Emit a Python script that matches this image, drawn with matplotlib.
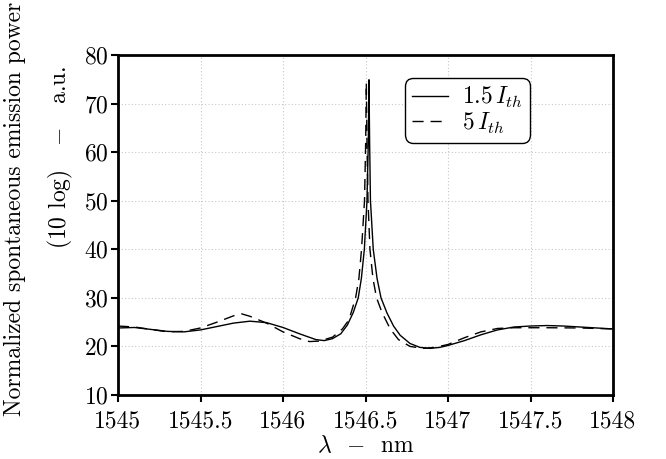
import matplotlib
matplotlib.use("Agg")
import matplotlib.pyplot as plt

plt.rcParams['font.family'] = ['cmr10', 'DejaVu Serif']
plt.rcParams['mathtext.fontset'] = 'cm'
plt.rcParams['axes.unicode_minus'] = False
plt.rcParams['axes.formatter.use_mathtext'] = True

# data
lam_a = [1545.00, 1545.10, 1545.20, 1545.30, 1545.40, 1545.50, 1545.60, 1545.70,
         1545.80, 1545.90, 1546.00, 1546.10, 1546.20, 1546.25, 1546.30, 1546.35,
         1546.39, 1546.426, 1546.456, 1546.475, 1546.493, 1546.509, 1546.517,
         1546.521, 1546.525, 1546.530, 1546.547, 1546.570, 1546.594, 1546.63,
         1546.67, 1546.71, 1546.77, 1546.83, 1546.89, 1546.95, 1547.00, 1547.10,
         1547.20, 1547.30, 1547.40, 1547.50, 1547.60, 1547.70, 1547.80, 1547.90,
         1548.00]
pow_a = [23.8, 23.9, 23.5, 23.1, 23.0, 23.4, 24.1, 24.8,
         25.2, 24.9, 23.9, 22.6, 21.4, 21.2, 21.6, 22.6,
         24.4, 27.0, 30.0, 34.0, 40.0, 50.0, 62.0,
         74.9, 62.0, 50.0, 40.0, 34.0, 30.0, 26.9,
         24.2, 22.3, 20.6, 19.8, 19.6, 19.8, 20.2, 21.2,
         22.4, 23.4, 24.0, 24.2, 24.3, 24.2, 24.0, 23.8,
         23.6]

lam_b = [1545.00, 1545.10, 1545.20, 1545.30, 1545.40, 1545.50, 1545.60, 1545.70,
         1545.75, 1545.80, 1545.90, 1546.00, 1546.10, 1546.16, 1546.22, 1546.30,
         1546.36, 1546.40, 1546.44, 1546.46, 1546.476, 1546.494, 1546.501,
         1546.505, 1546.509, 1546.515, 1546.527, 1546.545, 1546.567, 1546.60,
         1546.65, 1546.70, 1546.77, 1546.85, 1546.92, 1547.00, 1547.10, 1547.20,
         1547.30, 1547.40, 1547.60, 1547.80, 1548.00]
pow_b = [24.2, 24.0, 23.5, 23.0, 23.1, 23.8, 25.0, 26.3,
         26.7, 26.2, 24.8, 23.0, 21.6, 21.0, 21.1, 21.9,
         23.6, 25.5, 30.0, 34.0, 40.0, 50.0, 62.0,
         74.3, 62.0, 50.0, 40.0, 34.0, 30.0, 27.0,
         23.6, 21.4, 20.0, 19.6, 19.8, 20.4, 21.8, 23.0,
         23.7, 23.85, 23.85, 23.8, 23.6]

xticks = [1545, 1545.5, 1546, 1546.5, 1547, 1547.5, 1548]
xtick_labels = ['1545', '1545.5', '1546', '1546.5', '1547', '1547.5', '1548']
yticks = [10, 20, 30, 40, 50, 60, 70, 80]
labels = [r'$1.5\,I_{th}$', r'$5\,I_{th}$']

FS = 17
W, H = 666, 459
fig = plt.figure(figsize=(W / 100, H / 100), dpi=100)
ax = fig.add_axes([118 / W, 1 - 395 / H, (613 - 118) / W, (395 - 55) / H])

ax.plot(lam_a, pow_a, color='black', lw=1.0, label=labels[0])
ax.plot(lam_b, pow_b, color='black', lw=1.0, dashes=(8, 5), label=labels[1])

ax.set_xlim(1545, 1548)
ax.set_ylim(10, 80)
ax.set_xticks(xticks)
ax.set_xticklabels(xtick_labels)
ax.set_yticks(yticks)
ax.tick_params(direction='out', length=5, width=1.5, labelsize=FS, pad=2,
               top=False, right=False)
ax.tick_params(axis='x', pad=6)
for s in ax.spines.values():
    s.set_linewidth(2)
ax.grid(True, color='#c8c8c8', linestyle=(0, (1, 2)), linewidth=0.8)
ax.set_axisbelow(True)

ax.set_xlabel(r'$\lambda$  $-$  nm', fontsize=FS, labelpad=2)

fig.text(15 / W, 1 - 209 / H, 'Normalized spontaneous emission power',
         rotation=90, ha='center', va='center', fontsize=FS)
fig.text(60 / W, 1 - 157 / H, r'(10 log)   $-$   a.u.',
         rotation=90, ha='center', va='center', fontsize=FS)

leg = ax.legend(loc='upper right', bbox_to_anchor=((530 - 118) / 495, (395 - 78) / 340),
                fontsize=FS, frameon=True, fancybox=True, framealpha=1,
                edgecolor='black', handlelength=1.5, handletextpad=0.6,
                borderpad=0.3, labelspacing=0.02, borderaxespad=0)
leg.get_frame().set_linewidth(1.0)
leg.get_frame().set_boxstyle('round,pad=0,rounding_size=0.35')

fig.savefig('out.png', dpi=100)
